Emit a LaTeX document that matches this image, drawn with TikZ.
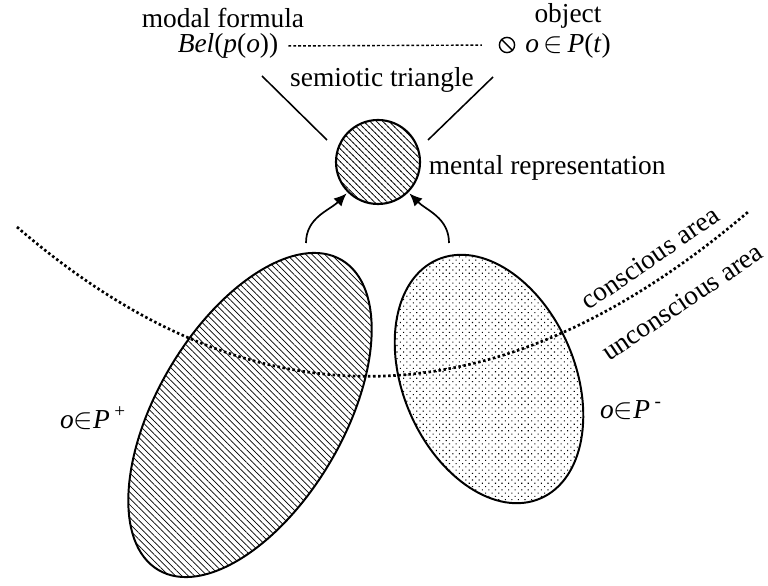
\documentclass[tikz,border=0pt]{standalone}
\usepackage{fontspec}
\setmainfont{Liberation Serif}
\usetikzlibrary{arrows.meta,positioning,shapes,patterns,patterns.meta}

\begin{document}
\begin{tikzpicture}[x=0.025cm, y=0.025cm, font=\fontsize{19.5}{22}\selectfont,
    every node/.style={inner sep=1pt},
    link/.style={line width=1.1pt},
    arr/.style={line width=1.2pt, -{Latex[length=9pt,width=8pt]}, shorten >=1pt},
    border/.style={dash pattern=on 1.8pt off 1.8pt, line width=1.9pt},
    set/.style={ellipse, draw, line width=1.4pt, inner sep=0pt}]
  \useasboundingbox (0,0) rectangle (768,585);

  % the two sets
  \node (pos) [set, minimum width=9cm, minimum height=4.65cm, rotate=59.4,
    pattern={Lines[angle=-45,distance=3.2pt,line width=0.5pt]}] at (250,170) {};
  \node (neg) [set, minimum width=6.5cm, minimum height=4.3cm, rotate=113.3,
    pattern={Dots[distance=3.3pt,radius=0.55pt,angle=45]}] at (489,206) {};
  \node (plus) at (93,167) {\textit{o}$\in$\textit{P}\,\textsuperscript{+}};
  \node (minus) at (631,175) {\textit{o}$\in$\textit{P}\,\textsuperscript{-}};

  % conscious / unconscious border
  \draw[border] (17,358) .. controls (253,154) and (497,159) .. (748,373);
  \node[rotate=34.5] (consc) at (650,327) {conscious area};
  \node[rotate=34] (unconsc) at (682,283) {unconscious area};

  % semiotic triangle
  \node (bel) at (228,539) {\textit{Bel}(\textit{p}(\textit{o}))};
  \node (modal) at (223,567) {modal formula};
  \node (obj) [circle, draw, line width=1pt, minimum size=0.38cm, inner sep=0pt] at (507,540) {};
  \draw[line width=1pt] (obj.135) -- (obj.-45);
  \node (objlbl) at (568,569) {object};
  \node (pt) at (568,539) {\textit{o}\,$\in$\,\textit{P}(\textit{t})};
  \node (semi) at (382,505) {semiotic triangle};
  \node (mental) [circle, draw, line width=1.5pt, minimum size=2.1cm, inner sep=0pt,
    pattern={Lines[angle=-45,distance=3.2pt,line width=0.5pt]},
    postaction={pattern={Dots[distance=3.2pt,radius=0.45pt,angle=45]}}] at (378,423) {};
  \node (rep) [right=0.15cm of mental, yshift=-4pt] {mental representation};

  \draw[dash pattern=on 2pt off 1.5pt, line width=1pt, shorten <=6pt, shorten >=12pt] (bel.east) -- (obj.west);
  \coordinate (tl) at (262,509);
  \coordinate (bl) at (327,445);
  \coordinate (tr) at (493,508);
  \coordinate (br) at (428,445);
  \draw[link] (tl) -- (bl);
  \draw[link] (tr) -- (br);

  % arrows up to the representation
  \coordinate (posup) at (306,342);
  \coordinate (negup) at (449,342);
  \draw[arr] (posup) to[out=90, in=225] (mental.225);
  \draw[arr] (negup) to[out=90, in=-45] (mental.-45);
\end{tikzpicture}
\end{document}
